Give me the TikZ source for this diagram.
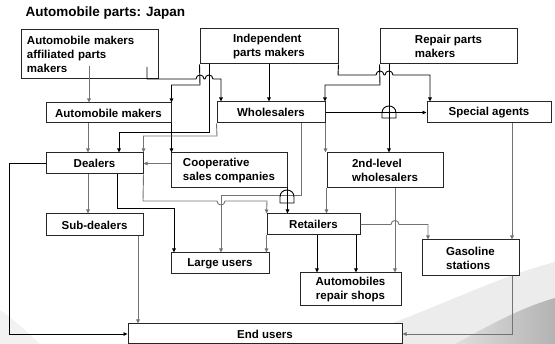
\documentclass[tikz,border=0pt]{standalone}
\usepackage{fontspec}
\setmainfont{Liberation Sans}
\usetikzlibrary{arrows.meta,calc}

\begin{document}
\begin{tikzpicture}[x=1pt,y=-1pt,
  font=\fontsize{11.5}{14}\selectfont\bfseries,
  box/.style={draw=black!85,line width=1pt,fill=white,inner sep=0pt,align=center},
  lbox/.style={box,align=left},
  barr/.style={-{Triangle[length=4pt,width=3.6pt]},line width=0.9pt,black},
  garr/.style={barr,black!55},
  hopbox/.style={line width=0.9pt,black},
]
  \useasboundingbox (0,0) rectangle (555,344);
  % background swoosh
  \fill[gray!10] (0,310) .. controls (15,320) and (30,335) .. (40,344) -- (0,344) -- cycle;
  \fill[gray!15] (330,344) .. controls (420,318) and (480,282) .. (555,262) -- (555,344) -- cycle;
  \shade[left color=gray!25,right color=gray!60] (455,344) .. controls (490,325) and (520,308) .. (555,298) -- (555,344) -- cycle;

  \node[anchor=west,font=\fontsize{13.5}{16}\selectfont\bfseries] (ttl) at (22,13) {Automobile parts: Japan};

  % boxes
  \node[lbox,text width=125pt,inner xsep=6pt,minimum height=49pt] (amap) at (89.5,54.5)
    {Automobile makers\\affiliated parts\\makers};
  \node[lbox,minimum width=138pt,minimum height=35pt] (ipm) at (269,46.5) {Independent\\parts makers};
  \node[lbox,minimum width=137pt,minimum height=35pt] (rpm) at (448.5,46.5) {Repair parts\\makers};
  \node[box,minimum width=125pt,minimum height=20pt] (am) at (108.5,113) {Automobile makers};
  \node[box,minimum width=108pt,minimum height=21pt] (whs) at (271,112.5) {Wholesalers};
  \node[box,minimum width=124pt,minimum height=21pt] (spa) at (489,112.5) {Special agents};
  \node[box,minimum width=97pt,minimum height=21pt] (dlr) at (94.5,163.5) {Dealers};
  \node[lbox,minimum width=116pt,minimum height=35pt] (csc) at (229,170.5) {Cooperative\\sales companies};
  \node[lbox,minimum width=116pt,minimum height=35pt] (slw) at (385,170.5) {2nd-level\\wholesalers};
  \node[box,minimum width=97pt,minimum height=22pt] (sub) at (94.5,225) {Sub-dealers};
  \node[box,minimum width=93pt,minimum height=21pt] (ret) at (313.5,224.5) {Retailers};
  \node[box,minimum width=98pt,minimum height=21pt] (lu) at (220,263.5) {Large users};
  \node[lbox,minimum width=97pt,minimum height=36pt] (gas) at (470.5,258) {Gasoline\\stations};
  \node[box,minimum width=101pt,minimum height=33pt] (ars) at (350.5,289.5) {Automobiles\\repair shops};
  \node[box,minimum width=274pt,minimum height=20pt] (eu) at (265,334) {End users};

  % makers
  \coordinate (amap1) at (89,66);
  \coordinate (amap2) at (147,67);
  \draw[garr] (amap1) -- (amap1 |- am.north);
  \draw[barr] (amap2) -- (147,79) -- (196,79) .. controls (196,73.7) and (204,73.7) .. (204,79)
    -- (205,79) .. controls (205,73.7) and (213,73.7) .. (213,79) -- (221,79) -- (221,0 |- whs.north);
  \draw[barr] (ipm.south west) -- (200,85) -| (am.north east);
  \draw[barr] (am.south east) -- (am.south east |- csc.north);
  \draw[barr] (209,0 |- ipm.south) -- (209,132) -| (119,0 |- dlr.north);
  \draw[barr] (ipm.south) -- (ipm.south |- whs.north);
  \draw[barr] (ipm.south east) -- (338,75) -- (376,75) .. controls (376,69.7) and (384,69.7) .. (384,75)
    -- (385,75) .. controls (385,69.7) and (393,69.7) .. (393,75) -- (430,75) -- (430,0 |- spa.north);
  \draw[barr] (rpm.south west) -- (380,85) -| (325,0 |- whs.north);
  \draw[barr] (389,0 |- rpm.south) -- (389,0 |- slw.north);

  % wholesalers
  \draw[barr] (whs.east) -- (spa.west);
  \draw[hopbox] (382,118) -- (382,113) .. controls (382,103.7) and (396,103.7) .. (396,113) -- (396,118) -- cycle;
  \draw[garr] (whs.south west) -- (217,136) -| (dlr.north east);
  \draw[garr] (whs.south east) -- (whs.south east |- slw.north);
  \draw[garr] (slw.south west) -- (slw.south west |- ret.north);
  \draw[garr] (301,0 |- whs.south) -- (301,195) -| (221,0 |- lu.north);
  \draw[hopbox] (280,203) -- (280,197) .. controls (280,187.7) and (294,187.7) .. (294,197) -- (294,203) -- cycle;

  % dealers
  \draw[garr] (88,0 |- am.south) -- (88,0 |- dlr.north);
  \draw[garr] (csc.west |- dlr.east) -- (dlr.east);
  \draw[barr] (csc.south east) -- (csc.south east |- ret.north);
  \draw[garr] (88,0 |- dlr.south) -- (88,0 |- sub.north);
  \draw[barr] (dlr.west) -- (9,0 |- dlr.west) |- (eu.west);
  \draw[barr] (117,0 |- dlr.south) |- (174,208) -- (174,0 |- lu.north);
  \draw[garr] (dlr.south east) -- (143,201) -- (217,201) .. controls (217,206.3) and (225,206.3) .. (225,201)
    -- (267,201) -- (ret.north west);

  % retailers and users
  \draw[garr] (138,0 |- sub.south) -- (138,0 |- eu.north);
  \draw[garr] (ret.south west) -- (ret.south west |- lu.north);
  \draw[barr] (317,0 |- ret.south) -- (317,0 |- ars.north);
  \draw[barr] (356,0 |- ret.south) -- (356,0 |- ars.north);
  \draw[garr] (395,0 |- slw.south) -- (395,0 |- ars.north);
  \draw[garr] (ret.east) -- (391,224.5) .. controls (391,219.2) and (399,219.2) .. (399,224.5)
    -- (428,224.5) -- (428,0 |- gas.north);
  \draw[garr] (512,0 |- spa.south) -- (512,0 |- gas.north);
  \draw[garr] (512,0 |- gas.south) |- (eu.east);
\end{tikzpicture}
\end{document}
